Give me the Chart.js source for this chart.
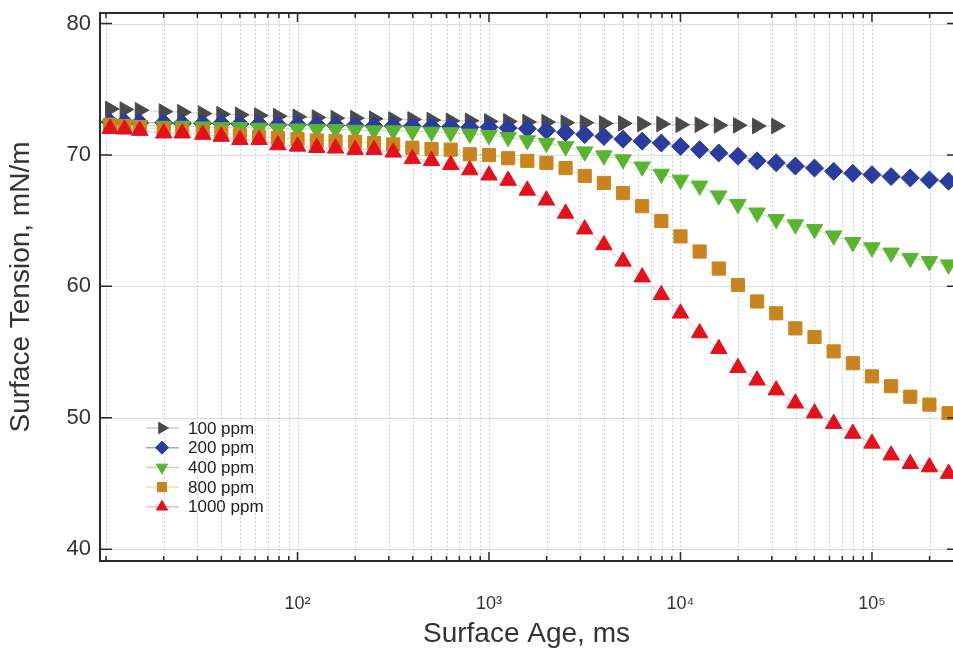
<!DOCTYPE html>
<html>
<head>
<meta charset="utf-8">
<script src="https://cdn.jsdelivr.net/npm/chart.js@4.4.1/dist/chart.umd.min.js"></script>
<style>
  html, body { margin: 0; padding: 0; background: #fff; }
  #wrap { width: 953px; height: 654px; }
</style>
</head>
<body>
<div id="wrap"><canvas id="tensionChart" width="953" height="654"></canvas></div>
<script>
// surface age, ms (shared by all series)
const ages = [10.5, 12.5, 15, 20, 25, 32, 40, 50, 63, 79,
  100, 126, 158, 200, 251, 316, 398, 501, 631, 794,
  1000, 1259, 1585, 1995, 2512, 3162, 3981, 5012, 6310, 7943,
  10000, 12589, 15849, 19953, 25119, 31623, 39811, 50119, 63096, 79433,
  100000, 125893, 158489, 199526, 251189];

// surface tension, mN/m
const tension100 = [73.5, 73.45, 73.4, 73.3, 73.25, 73.15, 73.1, 73.05, 73.0, 72.95,
  72.9, 72.85, 72.8, 72.8, 72.75, 72.7, 72.7, 72.65, 72.6, 72.6,
  72.55, 72.55, 72.5, 72.5, 72.45, 72.45, 72.4, 72.4, 72.35, 72.35,
  72.3, 72.3, 72.25, 72.25, 72.2, 72.2];
const tension200 = [72.5, 72.5, 72.45, 72.45, 72.4, 72.4, 72.4, 72.35, 72.35, 72.3,
  72.3, 72.3, 72.25, 72.25, 72.2, 72.2, 72.2, 72.15, 72.15, 72.1,
  72.1, 72.05, 72.0, 71.85, 71.7, 71.55, 71.4, 71.2, 71.05, 70.9,
  70.65, 70.4, 70.15, 69.9, 69.55, 69.4, 69.15, 69.0, 68.75, 68.6,
  68.5, 68.35, 68.25, 68.1, 68.0];
const tension400 = [72.3, 72.3, 72.25, 72.2, 72.2, 72.15, 72.1, 72.1, 72.05, 72.0,
  72.0, 71.95, 71.95, 71.9, 71.85, 71.85, 71.8, 71.75, 71.7, 71.6,
  71.5, 71.35, 71.1, 70.9, 70.65, 70.25, 69.95, 69.65, 69.1, 68.55,
  68.1, 67.65, 66.9, 66.25, 65.6, 65.1, 64.7, 64.35, 63.85, 63.35,
  62.95, 62.55, 62.15, 61.9, 61.65];
const tension800 = [72.3, 72.2, 72.1, 71.95, 71.85, 71.75, 71.65, 71.5, 71.4, 71.3,
  71.2, 71.1, 71.05, 71.0, 70.9, 70.8, 70.55, 70.45, 70.4, 70.05,
  70.0, 69.75, 69.55, 69.4, 69.0, 68.4, 67.87, 67.1, 66.1, 64.97,
  63.8, 62.65, 61.35, 60.1, 58.85, 57.95, 56.8, 56.15, 55.05, 54.15,
  53.15, 52.4, 51.6, 51.0, 50.35];
const tension1000 = [72.0, 71.95, 71.85, 71.65, 71.65, 71.55, 71.4, 71.15, 71.15, 70.75,
  70.65, 70.55, 70.5, 70.4, 70.4, 70.2, 69.7, 69.55, 69.25, 68.85,
  68.45, 68.05, 67.3, 66.55, 65.55, 64.35, 63.15, 61.9, 60.7, 59.35,
  57.95, 56.45, 55.25, 53.8, 52.85, 52.1, 51.1, 50.35, 49.55, 48.8,
  48.05, 47.15, 46.5, 46.25, 45.75];

const seriesNames = ['100 ppm', '200 ppm', '400 ppm', '800 ppm', '1000 ppm'];
const yTicks = [40, 50, 60, 70, 80];
const xMajorTicks = [100, 1000, 10000, 100000];
const xTickLabels = ['10²', '10³', '10⁴', '10⁵'];

const X_MIN = 9.3, X_MAX = 265000;
const FONT = "'Liberation Sans', Arial, Helvetica, sans-serif";

// every 1..9 x 10^n step inside the axis range (grid + minor ticks)
const xGridValues = [];
[1, 10, 100, 1000, 10000, 100000].forEach(d => {
  for (let m = 1; m <= 9; m++) {
    const v = m * d;
    if (v > X_MIN && v < X_MAX) xGridValues.push(v);
  }
});

const toPoints = ys => ys.map((v, i) => ({ x: ages[i], y: v }));

const styles = [
  { color: '#4a4a4a', line: 'rgba(170,170,150,0.6)', style: 'triangle', rot: 90, r: 9, order: 4 },
  { color: '#2c3c9c', line: 'rgba(60,80,170,0.5)', style: 'rectRot', rot: 0, r: 9, order: 3 },
  { color: '#5bb431', line: 'rgba(120,200,90,0.55)', style: 'triangle', rot: 180, r: 9.5, order: 2 },
  { color: '#c8841f', line: 'rgba(235,200,110,0.6)', style: 'rect', rot: 0, r: 9.3, order: 1 },
  { color: '#e2121d', line: 'rgba(240,140,150,0.6)', style: 'triangle', rot: 0, r: 9.5, order: 0 }
];
const seriesValues = [tension100, tension200, tension400, tension800, tension1000];

const datasets = seriesValues.map((vals, i) => ({
  label: seriesNames[i],
  data: toPoints(vals),
  order: styles[i].order,
  borderColor: styles[i].line,
  borderWidth: 1,
  pointStyle: styles[i].style,
  pointRotation: styles[i].rot,
  pointRadius: styles[i].r,
  pointBackgroundColor: styles[i].color,
  pointBorderColor: styles[i].color,
  pointBorderWidth: 1,
  tension: 0,
  clip: false
}));

const framePlugin = {
  id: 'framePlugin',
  beforeDatasetsDraw(chart) {
    const { ctx, chartArea: a, scales: { x, y } } = chart;
    ctx.save();
    ctx.lineWidth = 1;
    ctx.strokeStyle = 'rgba(150,175,205,0.55)';
    ctx.setLineDash([2, 2]);
    xGridValues.forEach(v => {
      const px = x.getPixelForValue(v);
      ctx.beginPath();
      ctx.moveTo(Math.round(px) + 0.5, a.top);
      ctx.lineTo(Math.round(px) + 0.5, a.bottom);
      ctx.stroke();
    });
    ctx.setLineDash([]);
    ctx.strokeStyle = 'rgba(195,205,220,0.7)';
    yTicks.forEach(v => {
      const py = Math.round(y.getPixelForValue(v)) + 0.5;
      ctx.beginPath();
      ctx.moveTo(a.left, py);
      ctx.lineTo(a.right, py);
      ctx.stroke();
    });
    ctx.restore();
  },
  afterDatasetsDraw(chart) {
    const { ctx, chartArea: a, scales: { x, y } } = chart;
    ctx.save();
    // frame: top, left, bottom (right side runs off the picture)
    ctx.strokeStyle = '#2a2a2a';
    ctx.lineWidth = 2;
    ctx.beginPath();
    ctx.moveTo(a.right, a.top);
    ctx.lineTo(a.left, a.top);
    ctx.lineTo(a.left, a.bottom);
    ctx.lineTo(a.right, a.bottom);
    ctx.stroke();

    ctx.lineWidth = 1.5;
    xGridValues.forEach(v => {
      const px = x.getPixelForValue(v);
      const len = xMajorTicks.includes(v) ? 9 : 5;
      ctx.beginPath();
      ctx.moveTo(px, a.bottom);
      ctx.lineTo(px, a.bottom - len);
      ctx.moveTo(px, a.top);
      ctx.lineTo(px, a.top + len);
      ctx.stroke();
    });
    yTicks.forEach(v => {
      const py = y.getPixelForValue(v);
      ctx.beginPath();
      ctx.moveTo(a.left, py);
      ctx.lineTo(a.left + 12, py);
      ctx.moveTo(a.right, py);
      ctx.lineTo(a.right - 6, py);
      ctx.stroke();
    });

    // legend inside the plot, lower left
    const lx = a.left + 46, ly = a.top + 415;
    ctx.font = '17px ' + FONT;
    ctx.textBaseline = 'middle';
    ctx.textAlign = 'left';
    chart.data.datasets.forEach((ds, i) => {
      const yy = ly + i * 19.7;
      ctx.strokeStyle = styles[i].line;
      ctx.lineWidth = 1.5;
      ctx.beginPath();
      ctx.moveTo(lx, yy);
      ctx.lineTo(lx + 33, yy);
      ctx.stroke();
      ctx.fillStyle = styles[i].color;
      ctx.strokeStyle = styles[i].color;
      ctx.lineWidth = 1;
      Chart.helpers.drawPoint(ctx, {
        pointStyle: styles[i].style, rotation: styles[i].rot,
        radius: 6.5, borderWidth: 1
      }, lx + 16, yy);
      ctx.fillStyle = '#222';
      ctx.fillText(ds.label, lx + 42, yy + 1);
    });
    ctx.restore();
  }
};

new Chart(document.getElementById('tensionChart'), {
  type: 'line',
  data: { datasets },
  plugins: [framePlugin],
  options: {
    responsive: false,
    animation: false,
    devicePixelRatio: 1,
    layout: { autoPadding: false, padding: { top: 13, right: 0, bottom: 0, left: 0 } },
    plugins: { legend: { display: false }, tooltip: { enabled: false } },
    scales: {
      x: {
        type: 'logarithmic',
        min: X_MIN,
        max: X_MAX,
        grid: { display: false, drawTicks: false },
        border: { display: false },
        afterBuildTicks: scale => { scale.ticks = xGridValues.map(v => ({ value: v })); },
        afterFit: scale => {
          scale.height = 93;
          scale.paddingLeft = 0;
          scale.paddingRight = 0;
        },
        ticks: {
          autoSkip: false,
          maxRotation: 0,
          minRotation: 0,
          padding: 32,
          color: '#333',
          font: { family: FONT, size: 18 },
          callback: value => {
            const k = xMajorTicks.indexOf(value);
            return k >= 0 ? xTickLabels[k] : '';
          }
        },
        title: {
          display: true,
          text: 'Surface Age, ms',
          color: '#333',
          font: { family: FONT, size: 28 },
          padding: { top: 0, bottom: 3 }
        }
      },
      y: {
        min: 39.1,
        max: 80.8,
        grid: { display: false, drawTicks: false },
        border: { display: false },
        afterBuildTicks: scale => { scale.ticks = yTicks.map(v => ({ value: v })); },
        afterFit: scale => {
          scale.width = 100;
          scale.paddingTop = 0;
          scale.paddingBottom = 0;
        },
        ticks: {
          padding: 9,
          color: '#333',
          font: { family: FONT, size: 22 }
        },
        title: {
          display: true,
          text: 'Surface Tension, mN/m',
          color: '#333',
          font: { family: FONT, size: 28 },
          padding: { top: 4, bottom: 0 }
        }
      }
    }
  }
});
</script>
</body>
</html>
